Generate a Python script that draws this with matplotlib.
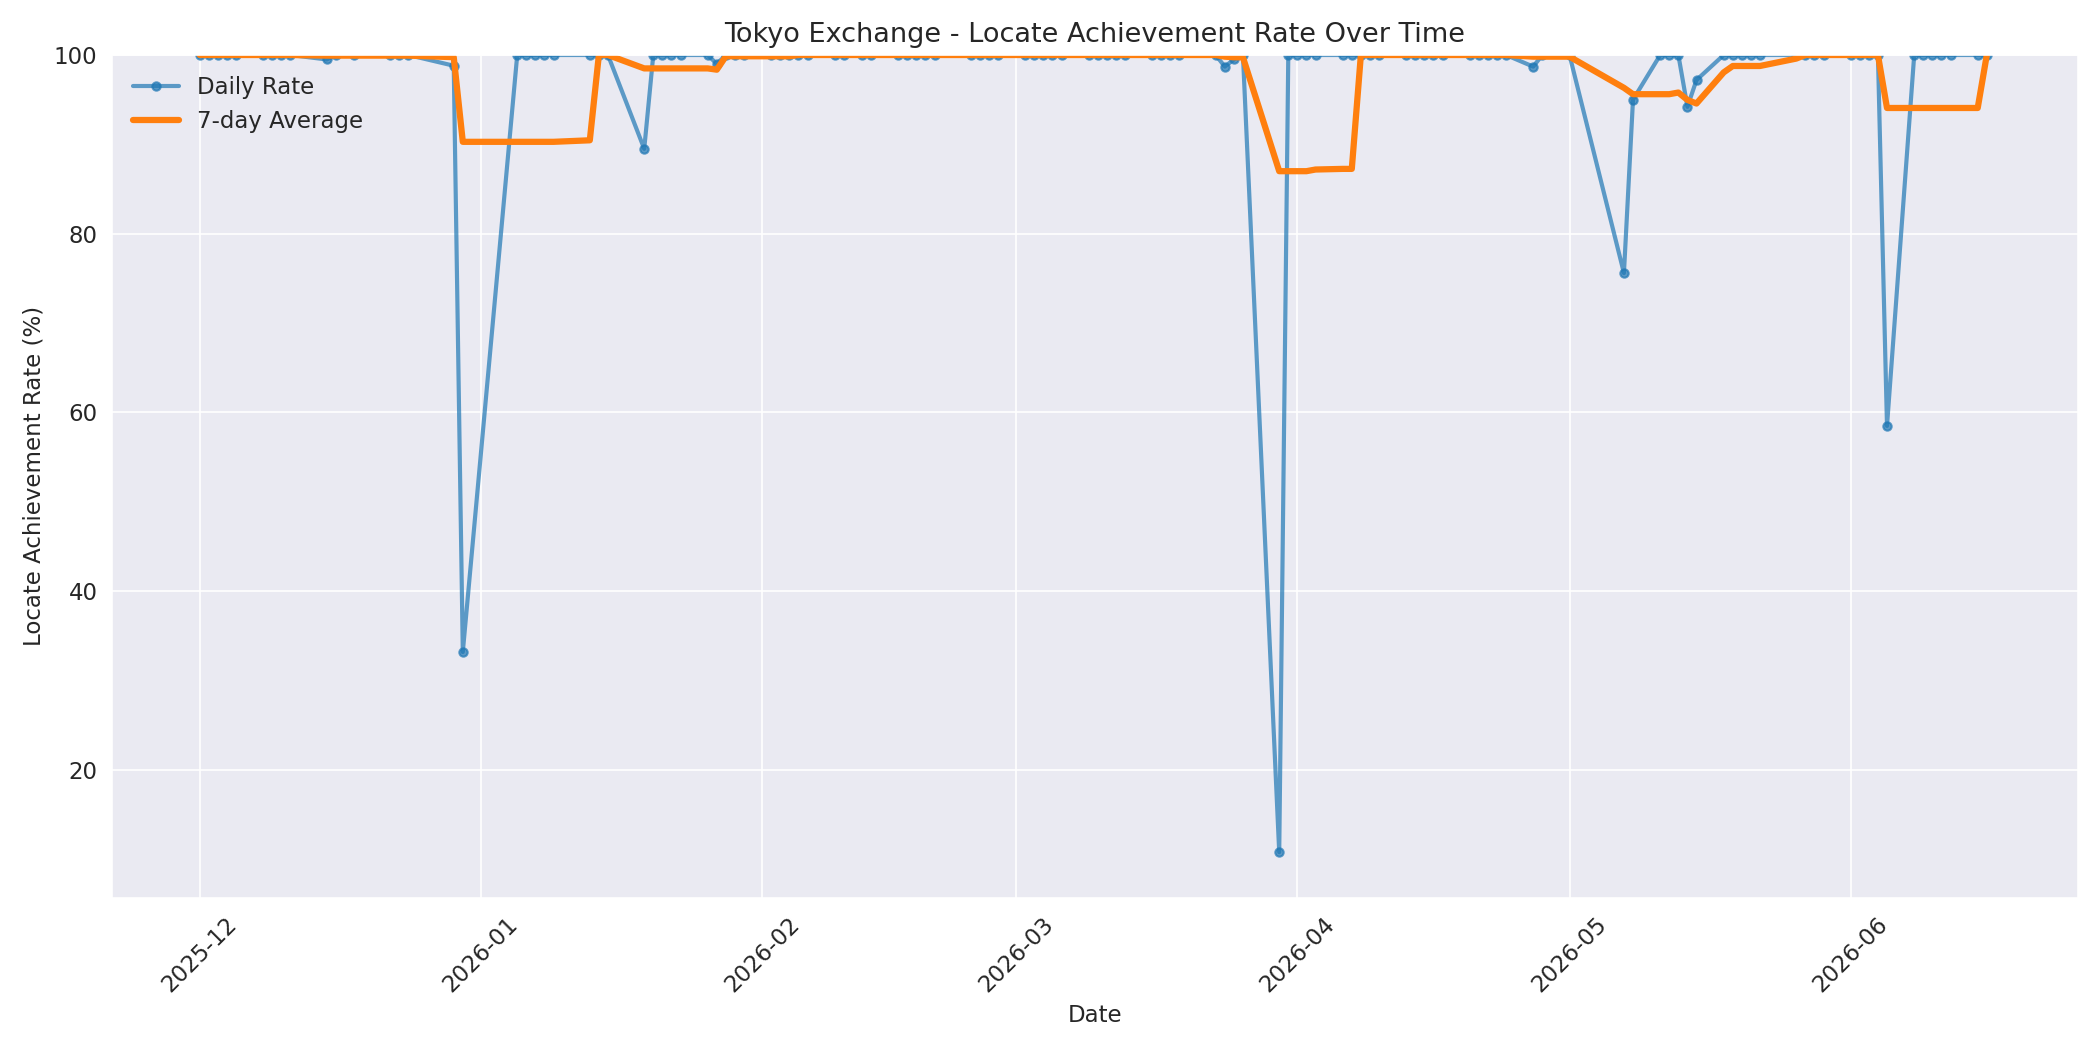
import matplotlib
matplotlib.use("Agg")
import matplotlib.pyplot as plt
import matplotlib.dates as mdates
import seaborn as sns
import pandas as pd

sns.set_style("darkgrid")

# business days with data
dates = [
    "2025-12-01", "2025-12-02", "2025-12-03", "2025-12-04", "2025-12-05",
    "2025-12-08", "2025-12-09", "2025-12-10", "2025-12-11",
    "2025-12-15", "2025-12-16", "2025-12-18",
    "2025-12-22", "2025-12-23", "2025-12-24",
    "2025-12-29", "2025-12-30",
    "2026-01-05", "2026-01-06", "2026-01-07", "2026-01-08", "2026-01-09",
    "2026-01-13", "2026-01-14", "2026-01-15", "2026-01-19",
    "2026-01-20", "2026-01-21", "2026-01-22", "2026-01-23",
    "2026-01-26", "2026-01-27", "2026-01-28", "2026-01-29", "2026-01-30",
    "2026-02-02", "2026-02-03", "2026-02-04", "2026-02-05", "2026-02-06",
    "2026-02-09", "2026-02-10", "2026-02-12", "2026-02-13",
    "2026-02-16", "2026-02-17", "2026-02-18", "2026-02-19", "2026-02-20",
    "2026-02-24", "2026-02-25", "2026-02-26", "2026-02-27",
    "2026-03-02", "2026-03-03", "2026-03-04", "2026-03-05", "2026-03-06",
    "2026-03-09", "2026-03-10", "2026-03-11", "2026-03-12", "2026-03-13",
    "2026-03-16", "2026-03-17", "2026-03-18", "2026-03-19",
    "2026-03-23", "2026-03-24", "2026-03-25", "2026-03-26",
    "2026-03-30", "2026-03-31", "2026-04-01", "2026-04-02", "2026-04-03",
    "2026-04-06", "2026-04-07", "2026-04-08", "2026-04-09", "2026-04-10",
    "2026-04-13", "2026-04-14", "2026-04-15", "2026-04-16", "2026-04-17",
    "2026-04-20", "2026-04-21", "2026-04-22", "2026-04-23", "2026-04-24",
    "2026-04-27", "2026-04-28", "2026-05-01",
    "2026-05-07", "2026-05-08", "2026-05-11", "2026-05-12", "2026-05-13",
    "2026-05-14", "2026-05-15",
    "2026-05-18", "2026-05-19", "2026-05-20", "2026-05-21", "2026-05-22",
    "2026-05-26", "2026-05-27", "2026-05-28", "2026-05-29",
    "2026-06-01", "2026-06-02", "2026-06-03", "2026-06-04", "2026-06-05",
    "2026-06-08", "2026-06-09", "2026-06-10", "2026-06-11", "2026-06-12",
    "2026-06-15", "2026-06-16",
]
rates = [
    100, 100, 100, 100, 100,
    100, 100, 100, 100,
    99.5, 100, 100,
    100, 100, 100,
    98.8, 33.2,
    100, 100, 100, 100, 100,
    100, 100, 100, 89.5,
    100, 100, 100, 100,
    100, 99.0, 100, 100, 100,
    100, 100, 100, 100, 100,
    100, 100, 100, 100,
    100, 100, 100, 100, 100,
    100, 100, 100, 100,
    100, 100, 100, 100, 100,
    100, 100, 100, 100, 100,
    100, 100, 100, 100,
    100, 98.7, 99.5, 100,
    10.8, 100, 100, 100, 100,
    100, 100, 100, 100, 100,
    100, 100, 100, 100, 100,
    100, 100, 100, 100, 100,
    98.7, 100, 100,
    75.6, 95.0, 100, 100, 100,
    94.2, 97.2,
    100, 100, 100, 100, 100,
    100, 100, 100, 100,
    100, 100, 100, 100, 58.5,
    100, 100, 100, 100, 100,
    100, 100,
]

df = pd.DataFrame({"date": pd.to_datetime(dates), "rate": rates})
df["avg7"] = df["rate"].rolling(7, min_periods=1).mean()

fig, ax = plt.subplots(figsize=(14, 7), dpi=150)
ax.plot(df["date"], df["rate"], marker="o", markersize=4, linewidth=2,
        alpha=0.7, color="#1f77b4", label="Daily Rate")
ax.plot(df["date"], df["avg7"], linewidth=3, color="#ff7f0e", label="7-day Average")

ax.set_ylim(5.7, 100)
ax.set_xlim(pd.Timestamp("2025-11-21 08:00"), pd.Timestamp("2026-06-26"))
ax.xaxis.set_major_locator(mdates.MonthLocator())
ax.xaxis.set_major_formatter(mdates.DateFormatter("%Y-%m"))
plt.setp(ax.get_xticklabels(), rotation=45)
ax.tick_params(labelsize=11)

ax.set_title("Tokyo Exchange - Locate Achievement Rate Over Time", fontsize=13)
ax.set_xlabel("Date", fontsize=11)
ax.set_ylabel("Locate Achievement Rate (%)", fontsize=11)
ax.legend(loc="upper left", fontsize=11, frameon=False)

fig.tight_layout()
fig.savefig("out.png")
